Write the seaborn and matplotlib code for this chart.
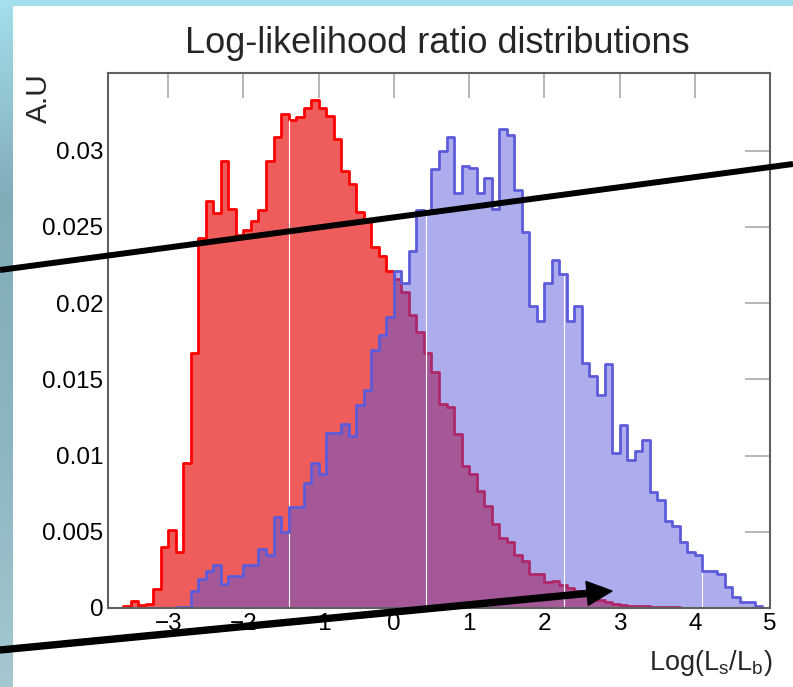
import numpy as np
import pandas as pd
import matplotlib
matplotlib.use("Agg")
import matplotlib.pyplot as plt
import seaborn as sns
from matplotlib.lines import Line2D
from matplotlib.patches import FancyArrow
from matplotlib.transforms import IdentityTransform

# ---- binning of the log-likelihood ratio -------------------------------
x_lo, x_hi, bin_width = -3.8, 5.0, 0.1

# red histogram, one value per 0.1-wide bin starting at -3.8
red_hist = [
    0.0, 0.0, 0.0001, 0.00044, 0.00018, 0.00024, 0.00126, 0.0040, 0.0051, 0.0037,
    0.0095, 0.0167, 0.0243, 0.0267, 0.0259, 0.0293, 0.0262, 0.0245, 0.0248, 0.0254,
    0.0261, 0.0293, 0.0309, 0.0324, 0.0320, 0.0322, 0.0328, 0.0333, 0.0328, 0.0323,
    0.0308, 0.0287, 0.0278, 0.0260, 0.0255, 0.0237, 0.0231, 0.0221, 0.0216, 0.0207,
    0.0192, 0.0181, 0.0167, 0.0155, 0.0134, 0.0132, 0.0114, 0.0093, 0.0088, 0.0077,
    0.0067, 0.0055, 0.0046, 0.0043, 0.0035, 0.0031, 0.0022, 0.0022, 0.0017, 0.0018,
    0.0015, 0.0013, 0.0011, 0.0009, 0.0007, 0.00055, 0.0004, 0.00024, 0.0002, 0.00015,
    0.00013, 0.0001, 0.00008, 0.00006, 0.00005, 0.00004, 0.00003, 0.00003, 0.00002, 0.00002,
    0.00002, 0.00001, 0.00001, 0.00001, 0.00001, 0.00001, 0.0, 0.0,
]

# blue histogram, same binning
blue_hist = [
    0.0, 0.0, 0.0, 0.0, 0.0, 0.0, 0.0, 0.0, 0.0, 0.00005,
    0.00007, 0.0011, 0.0019, 0.0024, 0.0028, 0.0016, 0.0021, 0.0021, 0.0028, 0.0028,
    0.0039, 0.0035, 0.0060, 0.0050, 0.0066, 0.0066, 0.0082, 0.0095, 0.0088, 0.0115,
    0.0115, 0.0121, 0.0113, 0.0133, 0.0143, 0.0169, 0.0179, 0.0191, 0.0221, 0.0213,
    0.0234, 0.0261, 0.0259, 0.0288, 0.0300, 0.0309, 0.0272, 0.0290, 0.0289, 0.0272,
    0.0282, 0.0262, 0.0314, 0.0310, 0.0274, 0.0247, 0.0198, 0.0188, 0.0213, 0.0228,
    0.0219, 0.0188, 0.0198, 0.0161, 0.0152, 0.0140, 0.0160, 0.0102, 0.0120, 0.0097,
    0.0103, 0.0110, 0.0076, 0.0071, 0.0057, 0.0054, 0.0043, 0.0037, 0.0035, 0.0024,
    0.0024, 0.0022, 0.0014, 0.0007, 0.0004, 0.0004, 0.0001, 0.0,
]

x_ticks = [-3, -2, -1, 0, 1, 2, 3, 4, 5]
y_ticks = [0, 0.005, 0.01, 0.015, 0.02, 0.025, 0.03]
y_tick_labels = ["0", "0.005", "0.01", "0.015", "0.02", "0.025", "0.03"]
y_max = 0.0351

title_text = "Log-likelihood ratio distributions"
x_title = r"Log(L$_{s}$/L$_{b}$)"
y_title = "A.U"

# ---- style --------------------------------------------------------------
sns.set_style("white")
plt.rcParams["font.family"] = ["Liberation Sans", "DejaVu Sans"]
plt.rcParams["mathtext.default"] = "regular"
plt.rcParams["axes.unicode_minus"] = True

W, H = 793, 687
fig = plt.figure(figsize=(W / 100, H / 100), dpi=100)

# window backdrop: bluish border on the left and top, white canvas
bg = fig.add_axes([0, 0, 1, 1], zorder=-10)
img = np.ones((H, W, 3))
rows = np.arange(H)
stops_y = [0, 200, 450, H - 1]
stops_c = np.array([[165, 222, 236], [128, 172, 184], [140, 182, 192], [165, 200, 210]]) / 255.0
strip = np.stack([np.interp(rows, stops_y, stops_c[:, k]) for k in range(3)], axis=1)
img[:, :13, :] = strip[:, None, :]
img[:6, :, :] = np.array([165, 222, 236]) / 255.0
bg.imshow(img, aspect="auto", extent=[0, 1, 0, 1], interpolation="nearest")
bg.set_axis_off()

ax = fig.add_axes([108 / W, 1 - 608 / H, 662 / W, 535 / H])
ax.set_facecolor("white")

n_bins = len(red_hist)
edges = (x_lo + bin_width * np.arange(n_bins + 1)).tolist()
centers = [e + bin_width / 2 for e in edges[:-1]]
red_df = pd.DataFrame({"llr": centers, "w": red_hist})
blue_df = pd.DataFrame({"llr": centers, "w": blue_hist})

red_face = (0.90, 0.0, 0.0, 0.64)
red_line = (1.0, 0.0, 0.0)
blue_face = (0.33, 0.33, 0.86, 0.48)
blue_line = (0.36, 0.36, 0.86)

# red filled step histogram and its outline
sns.histplot(data=red_df, x="llr", weights="w", bins=edges, element="step", fill=True,
             facecolor=red_face, edgecolor="none", linewidth=0, ax=ax, zorder=1.0)
sns.histplot(data=red_df, x="llr", weights="w", bins=edges, element="step", fill=False,
             color=red_line, linewidth=2.0, ax=ax, zorder=1.1)
# blue filled step histogram on top
sns.histplot(data=blue_df, x="llr", weights="w", bins=edges, element="step", fill=True,
             facecolor=blue_face, edgecolor="none", linewidth=0, ax=ax, zorder=1.2)

# faint white seams through the filled areas
for s in (-1.39, 0.425, 2.26, 4.09):
    k = int((s - x_lo) // bin_width)
    ax.vlines(s, 0, max(red_hist[k], blue_hist[k]), color="white", lw=0.8, zorder=1.3)

sns.histplot(data=blue_df, x="llr", weights="w", bins=edges, element="step", fill=False,
             color=blue_line, linewidth=2.0, ax=ax, zorder=1.4)

ax.set_xlim(x_lo, x_hi)
ax.set_ylim(0, y_max)
ax.set_xlabel("")
ax.set_ylabel("")
ax.set_xticks(x_ticks)
ax.set_yticks(y_ticks)
ax.set_yticklabels(y_tick_labels)
ax.tick_params(axis="both", direction="in", length=18, width=1.2, color="#aaaaaa",
               top=True, right=True, labelsize=17.5, labelcolor="black")
ax.tick_params(axis="y", pad=3.5)
ax.tick_params(axis="x", pad=3.5)
for sp in ax.spines.values():
    sp.set_color("#606060")
    sp.set_linewidth(1.5)
    sp.set_zorder(3)

# titles
fig.text(437.5 / W, 1 - 53 / H, title_text, ha="center", va="baseline", fontsize=26)
fig.text(39 / W, 1 - 73 / H, y_title, ha="center", va="top", rotation=90, fontsize=21.5)
fig.text(772 / W, 1 - 670 / H, x_title, ha="right", va="baseline", fontsize=19.5)

# hand-drawn black strokes across the figure (pixel coordinates)
fig.add_artist(Line2D([0, W], [H - 270, H - 164], color="black", lw=4.3,
                      transform=IdentityTransform(), zorder=20, solid_capstyle="butt"))
fig.add_artist(FancyArrow(0, H - 650, 612, 59, width=6, head_width=24, head_length=25,
                          length_includes_head=True, color="black",
                          transform=IdentityTransform(), zorder=20))

fig.savefig("out.png", dpi=100)
